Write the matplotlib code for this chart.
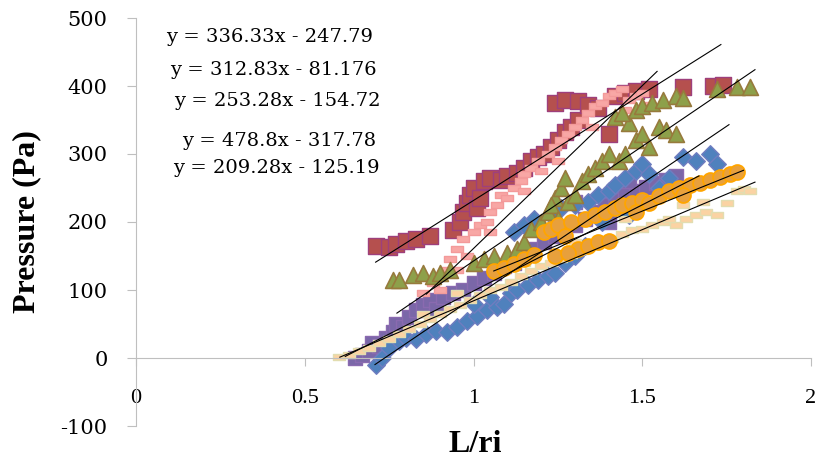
import numpy as np
import matplotlib.pyplot as plt
from matplotlib.path import Path

# ---- data ----
purple_x = [0.65, 0.67, 0.69, 0.70, 0.72, 0.74, 0.76, 0.77, 0.79, 0.81, 0.83, 0.85, 0.87, 0.89,
            0.91, 0.94, 0.97, 1.00, 1.03, 1.06, 1.09, 1.12, 1.15, 1.18, 1.21, 1.24, 1.27, 1.30,
            1.33, 1.36, 1.39, 1.42, 1.45, 1.48, 1.51, 1.54, 1.57, 1.60, 1.40, 1.30, 1.46]
purple_y = [0, 5, 10, 22, 18, 30, 38, 50, 45, 60, 70, 78, 85, 72,
            90, 95, 100, 110, 118, 125, 135, 140, 150, 160, 170, 180, 188, 195,
            205, 215, 225, 232, 240, 245, 252, 258, 262, 268, 200, 230, 260]

blue_x = [0.71, 0.73, 0.75, 0.78, 0.80, 0.83, 0.86, 0.89, 0.92, 0.95, 0.98, 1.01, 1.04, 1.07,
          1.09, 1.11, 1.13, 1.16, 1.19, 1.22, 1.24, 1.27, 1.30, 1.33, 1.12, 1.15, 1.18, 1.20,
          1.23, 1.26, 1.30, 1.34, 1.37, 1.40, 1.42, 1.45, 1.48, 1.50, 1.52, 1.55, 1.58, 1.62,
          1.66, 1.70, 1.72, 1.46, 1.38, 1.05, 1.00]
blue_y = [-10, 0, 15, 25, 30, 28, 35, 40, 38, 45, 55, 62, 70, 75,
          80, 95, 100, 108, 115, 120, 125, 140, 150, 165, 185, 195, 205, 190,
          210, 220, 225, 230, 240, 245, 255, 265, 275, 285, 270, 250, 265, 295,
          290, 300, 285, 210, 200, 90, 80]

maroon_x = [0.71, 0.75, 0.77, 0.80, 0.83, 0.87, 0.94, 0.96, 0.97, 0.98, 0.99, 1.00, 1.01, 1.02,
            1.03, 1.05, 1.08, 1.10, 1.13, 1.15, 1.17, 1.19, 1.21, 1.23, 1.25, 1.27, 1.29, 1.31,
            1.24, 1.27, 1.31, 1.34, 1.37, 1.40, 1.42, 1.45, 1.48, 1.52, 1.62, 1.71, 1.74]
maroon_y = [165, 163, 168, 172, 175, 180, 188, 200, 215, 228, 240, 250, 220, 235,
            260, 265, 262, 268, 272, 280, 290, 295, 300, 310, 320, 332, 340, 350,
            375, 380, 378, 372, 368, 330, 385, 390, 392, 395, 398, 400, 401]

pink_x = [0.85, 0.88, 0.90, 0.92, 0.93, 0.95, 0.97, 0.98, 1.00, 1.02, 1.04, 1.05, 1.07, 1.08,
          1.10, 1.12, 1.14, 1.15, 1.17, 1.19, 1.20, 1.22, 1.24, 1.26, 1.28, 1.30, 1.32, 1.34,
          1.36, 1.38, 1.40, 1.42, 1.44, 1.46, 1.48, 1.50, 1.52, 1.45, 1.35, 1.25, 1.15, 1.05,
          0.95, 0.90]
pink_y = [95, 110, 120, 130, 145, 160, 175, 150, 185, 195, 200, 215, 225, 240,
          235, 250, 260, 270, 280, 290, 275, 300, 310, 320, 330, 340, 350, 360,
          370, 375, 385, 390, 395, 380, 385, 390, 372, 365, 340, 290, 245, 185,
          130, 100]

olive_x = [0.76, 0.78, 0.82, 0.85, 0.88, 0.90, 0.93, 1.00, 1.03, 1.06, 1.10, 1.13, 1.15, 1.17,
           1.20, 1.22, 1.24, 1.26, 1.27, 1.23, 1.25, 1.28, 1.30, 1.32, 1.34, 1.36, 1.38, 1.40,
           1.43, 1.45, 1.48, 1.50, 1.52, 1.55, 1.57, 1.60, 1.46, 1.42, 1.44, 1.48, 1.50, 1.53,
           1.56, 1.60, 1.62, 1.72, 1.78, 1.82]
olive_y = [115, 115, 122, 125, 120, 125, 130, 140, 145, 150, 155, 160, 170, 190,
           200, 215, 235, 250, 265, 225, 205, 230, 240, 260, 270, 280, 290, 300,
           290, 300, 320, 330, 310, 340, 335, 330, 345, 355, 360, 365, 370, 375,
           380, 385, 382, 395, 398, 398]

peach_x = [0.60, 0.63, 0.66, 0.69, 0.72, 0.75, 0.78, 0.81, 0.84, 0.87, 0.90, 0.93, 0.96, 0.99,
           1.02, 1.05, 1.08, 1.11, 1.14, 1.17, 1.20, 1.23, 1.26, 1.29, 1.32, 1.35, 1.38, 1.41,
           1.44, 1.47, 1.50, 1.53, 1.56, 1.60, 1.63, 1.66, 1.69, 1.72, 1.75, 1.78, 1.80, 1.82,
           1.58, 1.62, 1.68, 1.45, 1.30, 1.15, 0.95, 0.85]
peach_y = [2, 5, 10, 15, 22, 28, 35, 42, 50, 58, 65, 72, 78, 85,
           92, 100, 105, 112, 120, 128, 135, 140, 145, 152, 158, 165, 170, 175,
           182, 188, 190, 195, 200, 195, 205, 210, 215, 210, 228, 245, 248, 246,
           205, 225, 230, 205, 170, 140, 95, 65]

orange_x = [1.06, 1.09, 1.12, 1.15, 1.18, 1.21, 1.23, 1.25, 1.27, 1.29, 1.31, 1.34, 1.37, 1.40,
            1.33, 1.36, 1.39, 1.42, 1.44, 1.47, 1.50, 1.52, 1.55, 1.58, 1.61, 1.64, 1.67, 1.70,
            1.73, 1.76, 1.78, 1.24, 1.28, 1.48, 1.62]
orange_y = [128, 133, 138, 145, 152, 185, 190, 195, 180, 200, 160, 165, 170, 172,
            205, 210, 215, 220, 225, 228, 232, 228, 238, 245, 250, 255, 258, 262,
            266, 270, 273, 150, 155, 215, 240]

# trend lines: slope, intercept, x range
trends = [
    (253.28, -154.72, 0.62, 1.668),   # purple
    (336.33, -247.79, 0.708, 1.757),  # blue
    (312.83, -81.176, 0.71, 1.733),   # maroon
    (478.8, -317.78, 0.86, 1.544),    # pink
    (337.4, -194.8, 0.773, 1.834),    # olive
    (209.28, -125.19, 0.604, 1.834),  # peach
    (200.0, -84.0, 1.06, 1.80),       # orange
]
equations = ["y = 336.33x - 247.79", "y = 312.83x - 81.176", "y = 253.28x - 154.72",
             "y = 478.8x - 317.78", "y = 209.28x - 125.19"]

# ---- figure ----
fig = plt.figure(figsize=(8.17, 4.63), dpi=100)
ax = fig.add_axes([136 / 817, 1 - 426 / 463, 675 / 817, 408 / 463])

# spine position first, it resets the ticks
for s in ['top', 'right']:
    ax.spines[s].set_visible(False)
ax.spines['bottom'].set_position(('data', 0))
ax.spines['bottom'].set_color('#BFBFBF')
ax.spines['left'].set_color('#BFBFBF')

rect = Path([(-1, -0.45), (1, -0.45), (1, 0.45), (-1, 0.45), (-1, -0.45)],
            [Path.MOVETO, Path.LINETO, Path.LINETO, Path.LINETO, Path.CLOSEPOLY])

ax.scatter(purple_x, purple_y, marker='s', s=105, c='#7A67A8', edgecolors='#8A6AB0', linewidths=1, zorder=2)
ax.scatter(blue_x, blue_y, marker='D', s=80, c='#4F81BD', edgecolors='#6F7DC0', linewidths=1, zorder=2)
ax.scatter(maroon_x, maroon_y, marker='s', s=120, c='#B5504E', edgecolors='#9E3F7C', linewidths=1, zorder=2)
ax.scatter(pink_x, pink_y, marker=rect, s=85, c='#F8A7A5', edgecolors='#F39A9A', linewidths=1, zorder=2)
ax.scatter(olive_x, olive_y, marker='^', s=130, c='#8DA04A', edgecolors='#977A3C', linewidths=1.2, zorder=2)
ax.scatter(peach_x, peach_y, marker=rect, s=85, c='#FBD3A3', edgecolors='#E2DDB0', linewidths=1, zorder=2)
ax.scatter(orange_x, orange_y, marker='o', s=115, c='#E8A03C', edgecolors='#FFA500', linewidths=1.3, zorder=2)

for m, b, x0, x1 in trends:
    xs = np.array([x0, x1])
    ax.plot(xs, m * xs + b, color='black', linewidth=0.8, zorder=3)

ax.set_xlim(0, 2)
ax.set_ylim(-100, 500)
ax.set_xticks([0, 0.5, 1, 1.5, 2])
ax.set_xticklabels(['0', '0.5', '1', '1.5', '2'])
ax.set_yticks(range(-100, 501, 100))
ax.set_yticklabels([str(v) for v in range(-100, 501, 100)])
ax.tick_params(axis='x', direction='out', length=6, color='#BFBFBF', pad=16, labelsize=16)
ax.tick_params(axis='y', direction='out', length=6.5, color='#BFBFBF', pad=14, labelsize=15)
for lbl in ax.get_xticklabels():
    lbl.set_family('Liberation Serif')
for lbl in ax.get_yticklabels():
    lbl.set_family('DejaVu Serif')

eq_pos = [(166, 37), (170, 70), (174, 101), (182, 141), (173, 168)]
for (px, py), eq in zip(eq_pos, equations):
    fig.text(px / 817, 1 - py / 463, eq, family='DejaVu Serif', fontsize=14, va='center', ha='left')

fig.text(27 / 817, 1 - 222 / 463, 'Pressure (Pa)', family='Liberation Serif', fontweight='bold',
         fontsize=23, rotation=90, ha='center', va='center')
fig.text(475 / 817, 1 - 445 / 463, 'L/ri', family='Liberation Serif', fontweight='bold',
         fontsize=23, ha='center', va='center')

fig.savefig('out.png', dpi=100)
